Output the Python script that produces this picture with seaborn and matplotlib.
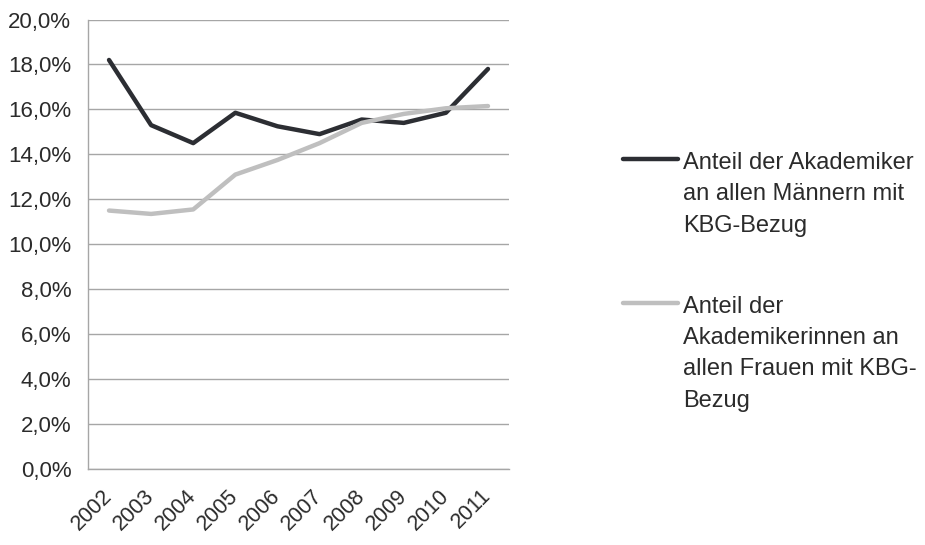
import matplotlib
matplotlib.use("Agg")
import matplotlib.pyplot as plt
from matplotlib.ticker import FixedLocator, FuncFormatter
import pandas as pd
import seaborn as sns

# Anteil Akademiker/innen an KBG-Beziehern, in Prozent
years = [2002, 2003, 2004, 2005, 2006, 2007, 2008, 2009, 2010, 2011]
maenner = [18.2, 15.3, 14.5, 15.85, 15.25, 14.9, 15.55, 15.4, 15.85, 17.8]
frauen = [11.5, 11.35, 11.55, 13.1, 13.75, 14.5, 15.4, 15.8, 16.05, 16.15]
label_m = "Anteil der Akademiker\nan allen Männern mit\nKBG-Bezug"
label_f = "Anteil der\nAkademikerinnen an\nallen Frauen mit KBG-\nBezug"

df = pd.DataFrame({
    "Jahr": years * 2,
    "Anteil": maenner + frauen,
    "Reihe": [label_m] * len(years) + [label_f] * len(years),
})

sns.set_style("white")
plt.rcParams['font.family'] = ['Liberation Sans', 'DejaVu Sans']
grid_col = '#a6a6a6'
text_col = '#2b2b2b'

fig = plt.figure(figsize=(9.25, 5.45), dpi=100)
ax = fig.add_axes([0.0951, 0.1394, 0.4552, 0.8248])
sns.lineplot(data=df, x="Jahr", y="Anteil", hue="Reihe", ax=ax,
             palette={label_m: '#2c2e33', label_f: '#bfbfbf'},
             linewidth=3.2, legend=False, zorder=3)

ax.set_xlim(2001.5, 2011.5)
ax.set_ylim(0, 20)
ax.yaxis.set_major_locator(FixedLocator(range(0, 21, 2)))
ax.yaxis.set_major_formatter(FuncFormatter(lambda v, p: f"{v:.1f}%".replace(".", ",")))
ax.xaxis.set_major_locator(FixedLocator(years))
ax.xaxis.set_minor_locator(FixedLocator([y - 0.5 for y in years] + [years[-1] + 0.5]))
ax.set_xticklabels([str(y) for y in years], rotation=45, ha='right', va='center',
                   rotation_mode='anchor', fontsize=15.5, color=text_col)
ax.tick_params(axis='x', which='major', length=0, pad=17)
ax.tick_params(axis='x', which='minor', length=6, width=1, color=grid_col, direction='out')
ax.tick_params(axis='y', length=6, width=1, color=grid_col, labelsize=16,
               labelcolor=text_col, pad=6)
ax.set_xlabel("")
ax.set_ylabel("")

ax.grid(axis='y', color=grid_col, linewidth=1, zorder=1)
ax.set_axisbelow(True)
for side in ['top', 'right']:
    ax.spines[side].set_visible(False)
for side in ['left', 'bottom']:
    ax.spines[side].set_color(grid_col)
    ax.spines[side].set_linewidth(1)

handles = ax.get_lines()[:2]
leg = fig.legend(handles=handles, labels=[label_m, label_f], loc='upper left',
                 bbox_to_anchor=(623 / 925, 1 - 152 / 545), frameon=False,
                 fontsize=17, handlelength=2.35, handleheight=0.4, handletextpad=0.2,
                 labelspacing=2.5, borderpad=0, borderaxespad=0)
for t in leg.get_texts():
    t.set_color(text_col)
    t.set_linespacing(1.55)
# Linie auf Höhe der ersten Textzeile
for col in leg._legend_handle_box.get_children():
    for row in col.get_children():
        row.align = 'top'

fig.savefig('out.png', dpi=100)
